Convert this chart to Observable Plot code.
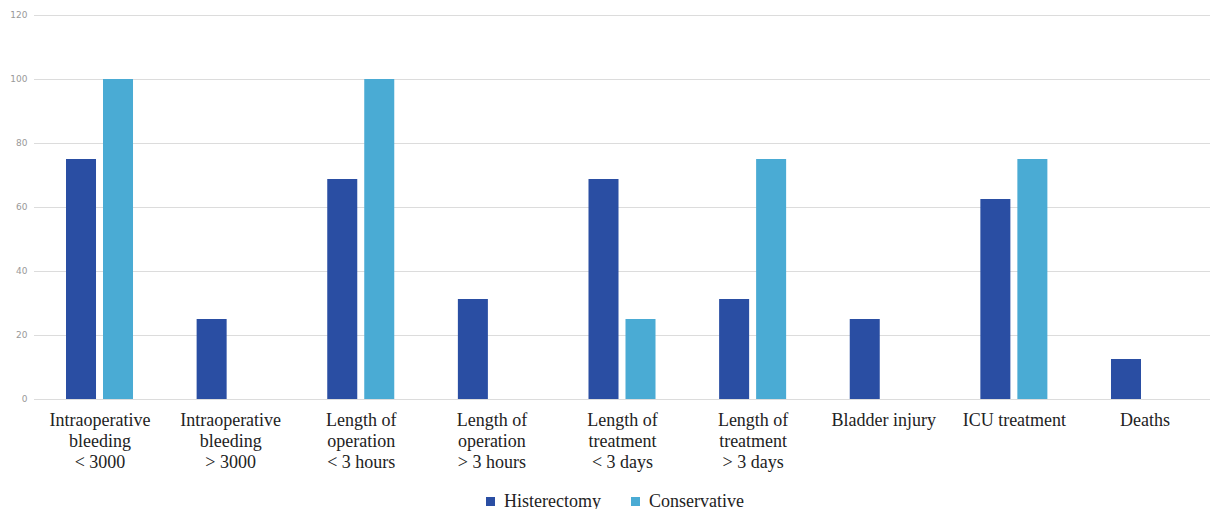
<!DOCTYPE html>
<html>
<head>
<meta charset="utf-8">
<script src="https://cdn.jsdelivr.net/npm/d3@7"></script>
<script src="https://cdn.jsdelivr.net/npm/@observablehq/plot@0.6"></script>
<style>
  html, body { margin: 0; padding: 0; background: #fff; overflow: hidden; }
  #chart svg { display: block; }
  #legend { height: 21px; line-height: 21px; text-align: center; font-family: "Liberation Serif", "Times New Roman", serif; font-size: 18px; color: #222; padding-left: 20px; white-space: nowrap; }
  #legend span.item { display: inline-block; margin: 0 15px; }
  #legend span.sw { display: inline-block; width: 9px; height: 9px; margin-right: 9px; vertical-align: 1px; }
</style>
</head>
<body>
<div id="chart"></div>
<div id="legend"></div>
<script>
const categories = [
  "Intraoperative\nbleeding\n< 3000",
  "Intraoperative\nbleeding\n> 3000",
  "Length of\noperation\n< 3 hours",
  "Length of\noperation\n> 3 hours",
  "Length of\ntreatment\n< 3 days",
  "Length of\ntreatment\n> 3 days",
  "Bladder injury",
  "ICU treatment",
  "Deaths"
];
const seriesNames = ["Histerectomy", "Conservative"];
const histerectomy = [75, 25, 68.75, 31.25, 68.75, 31.25, 25, 62.5, 12.5];
const conservative = [100, 0, 100, 0, 25, 75, 0, 75, 0];
const yTicks = [0, 20, 40, 60, 80, 100, 120];
const colors = ["#2a4ea3", "#4aabd4"];

const histData = categories.map((c, i) => ({category: c, value: histerectomy[i]}));
const consData = categories.map((c, i) => ({category: c, value: conservative[i]}));

const chart = Plot.plot({
  width: 1210,
  height: 491,
  marginLeft: 34,
  marginRight: 0,
  marginTop: 15,
  marginBottom: 92,
  style: {background: "#fff"},
  x: {domain: categories, paddingInner: 0.487, paddingOuter: 0.245, round: false, axis: null},
  y: {domain: [0, 120], ticks: yTicks, axis: null},
  marks: [
    Plot.gridY(yTicks, {stroke: "#dcdcdc", strokeOpacity: 1, strokeWidth: 1}),
    Plot.axisY(yTicks, {tickSize: 0, tickPadding: 7, fontSize: 9, fill: "#999", label: null, fontFamily: "'DejaVu Sans', sans-serif"}),
    Plot.barY(histData, {x: "category", y: "value", fill: colors[0], insetRight: 37}),
    Plot.barY(consData, {x: "category", y: "value", fill: colors[1], insetLeft: 37}),
    Plot.text(categories, {x: d => d, text: d => d, frameAnchor: "bottom", lineAnchor: "top", dy: 12,
      fontSize: 18, lineHeight: 1.15, fontFamily: "'Liberation Serif', 'Times New Roman', serif", fill: "#222"})
  ]
});
document.getElementById("chart").appendChild(chart);

const legend = document.getElementById("legend");
seriesNames.forEach((name, i) => {
  const item = document.createElement("span");
  item.className = "item";
  const sw = document.createElement("span");
  sw.className = "sw";
  sw.style.background = colors[i];
  item.appendChild(sw);
  item.appendChild(document.createTextNode(name));
  legend.appendChild(item);
});
</script>
</body>
</html>
